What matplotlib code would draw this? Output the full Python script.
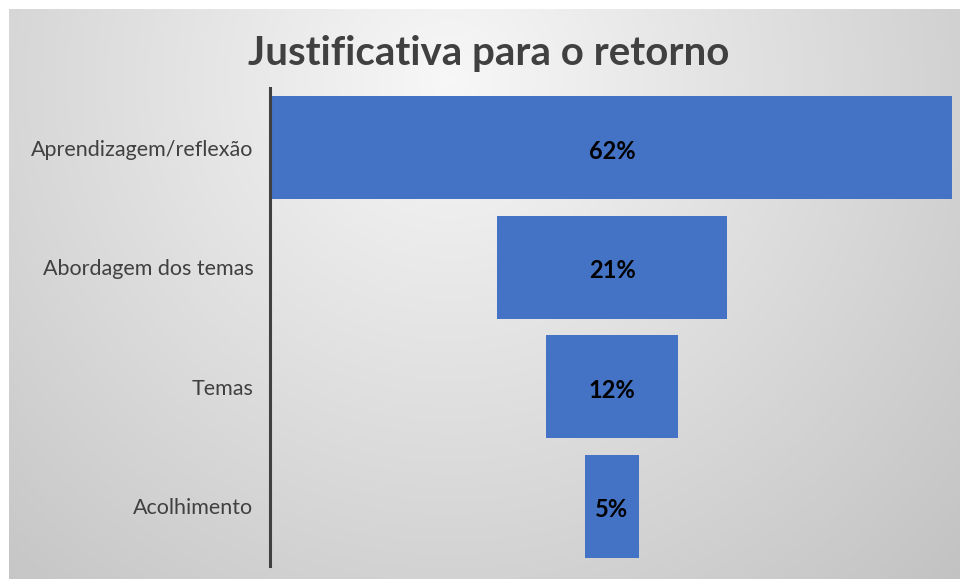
import matplotlib
matplotlib.use('Agg')
import matplotlib.pyplot as plt
import numpy as np

categories = ["Aprendizagem/reflexão", "Abordagem dos temas", "Temas", "Acolhimento"]
values = [62, 21, 12, 5]
labels = ["62%", "21%", "12%", "5%"]

plt.rcParams['font.family'] = ['Lato', 'DejaVu Sans']

fig = plt.figure(figsize=(9.6, 5.79), dpi=100)
fig.patch.set_facecolor('white')

# gradient background (chart area)
bg = fig.add_axes([9 / 960, 0, 951 / 960, 570 / 579])
h, w = 570, 951
yy, xx = np.mgrid[0:h, 0:w]
r = np.sqrt((xx - 440) ** 2 + (yy - 70) ** 2) / 720
shade = np.clip(0.97 - 0.21 * r, 0, 1)
bg.imshow(np.dstack([shade, shade, shade]), aspect='auto', extent=[0, 1, 0, 1])
bg.axis('off')

ax = fig.add_axes([270 / 960, 13 / 579, 684 / 960, 478 / 579])
ax.patch.set_alpha(0)
y = np.arange(len(values))
v = np.array(values)
ax.barh(y, v, left=-v / 2, height=0.86, color='#4472C4')
for yi, lab in zip(y, labels):
    ax.text(0, yi + 0.03, lab, ha='center', va='center', fontsize=17,
            fontweight='bold', color='black')

ax.set_xlim(-31.2, 31.2)
ax.set_ylim(3.5, -0.5)
ax.set_yticks(y)
ax.set_yticklabels(categories, fontsize=15.5, color='#404040')
ax.tick_params(axis='y', length=0, pad=12)
ax.set_xticks([])
for s in ['top', 'right', 'bottom']:
    ax.spines[s].set_visible(False)
ax.spines['left'].set_color('#404040')
ax.spines['left'].set_linewidth(2.2)

fig.text(489 / 960, 1 - 53 / 579, "Justificativa para o retorno", ha='center',
         va='center', fontsize=29, fontweight='bold', color='#404040')

fig.savefig('out.png', dpi=100)
